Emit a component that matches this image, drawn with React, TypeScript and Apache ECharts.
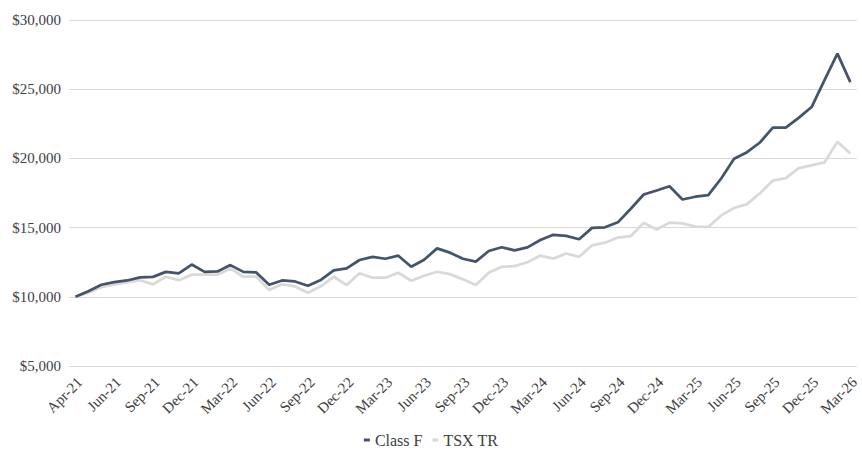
import React, { useEffect, useRef } from "react";
import * as echarts from "echarts";

const categories: string[] = [
  "Apr-21", "Apr-21", "May-21", "Jun-21", "Jul-21", "Aug-21", "Sep-21", "Oct-21", "Nov-21", "Dec-21",
  "Jan-22", "Feb-22", "Mar-22", "Apr-22", "May-22", "Jun-22", "Jul-22", "Aug-22", "Sep-22", "Oct-22",
  "Nov-22", "Dec-22", "Jan-23", "Feb-23", "Mar-23", "Apr-23", "May-23", "Jun-23", "Jul-23", "Aug-23",
  "Sep-23", "Oct-23", "Nov-23", "Dec-23", "Jan-24", "Feb-24", "Mar-24", "Apr-24", "May-24", "Jun-24",
  "Jul-24", "Aug-24", "Sep-24", "Oct-24", "Nov-24", "Dec-24", "Jan-25", "Feb-25", "Mar-25", "Apr-25",
  "May-25", "Jun-25", "Jul-25", "Aug-25", "Sep-25", "Oct-25", "Nov-25", "Dec-25", "Jan-26", "Feb-26",
  "Mar-26",
];

const classF: number[] = [
  10000, 10400, 10870, 11060, 11180, 11400, 11440, 11800, 11700, 12330,
  11800, 11830, 12290, 11800, 11760, 10870, 11180, 11110, 10800, 11220,
  11910, 12060, 12660, 12880, 12750, 12970, 12170, 12680, 13500, 13190,
  12750, 12540, 13310, 13580, 13360, 13570, 14100, 14480, 14400, 14160,
  14980, 15020, 15380, 16360, 17390, 17680, 17990, 17030, 17230, 17340,
  18550, 19970, 20450, 21150, 22220, 22220, 22930, 23710, 25660, 27570,
  25510,
];

const tsxTR: number[] = [
  10000, 10300, 10700, 10900, 11050, 11200, 10900, 11450, 11200, 11600,
  11600, 11600, 12050, 11450, 11450, 10500, 10900, 10750, 10300, 10760,
  11450, 10850, 11700, 11380, 11380, 11740, 11160, 11520, 11810, 11640,
  11260, 10850, 11740, 12170, 12220, 12500, 12980, 12760, 13130, 12890,
  13720, 13910, 14280, 14390, 15340, 14860, 15360, 15300, 15070, 15050,
  15880, 16420, 16700, 17480, 18400, 18570, 19300, 19500, 19710, 21210,
  20360,
];

const yTicks = { min: 5000, max: 30000, interval: 5000 };

const FONT = "Liberation Serif";

function fmtDollar(v: number): string {
  return "$" + String(Math.round(v)).replace(/\B(?=(\d{3})+(?!\d))/g, ",");
}

export default function App() {
  const ref = useRef<HTMLDivElement>(null);
  useEffect(() => {
    if (!ref.current) return;
    const chart = echarts.init(ref.current, null, { renderer: "svg" });
    chart.setOption({
      animation: false,
      backgroundColor: "#ffffff",
      textStyle: { fontFamily: FONT },
      grid: { left: 69, right: 5, top: 20, bottom: 84, containLabel: false },
      legend: {
        data: ["Class F", "TSX TR"],
        top: 427,
        left: "center",
        icon: "rect",
        itemWidth: 6,
        itemHeight: 3,
        itemGap: 10,
        textStyle: { fontFamily: FONT, fontSize: 16, color: "#404040" },
      },
      xAxis: {
        type: "category",
        data: categories,
        boundaryGap: true,
        axisLine: { show: false },
        axisTick: { show: false },
        axisLabel: {
          interval: 2,
          rotate: 45,
          margin: 18,
          padding: [0, -6, 0, 0],
          fontFamily: FONT,
          fontSize: 15,
          color: "#404040",
        },
      },
      yAxis: {
        type: "value",
        min: yTicks.min,
        max: yTicks.max,
        interval: yTicks.interval,
        axisLine: { show: false },
        axisTick: { show: false },
        splitLine: { lineStyle: { color: "#d9d9d9", width: 1 } },
        axisLabel: {
          margin: 8,
          fontFamily: FONT,
          fontSize: 15,
          color: "#404040",
          formatter: (v: number) => fmtDollar(v),
        },
      },
      series: [
        {
          name: "TSX TR",
          type: "line",
          data: tsxTR,
          symbol: "none",
          lineStyle: { color: "#d9d9d9", width: 2.75 },
          itemStyle: { color: "#d9d9d9" },
          z: 2,
        },
        {
          name: "Class F",
          type: "line",
          data: classF,
          symbol: "none",
          lineStyle: { color: "#44546a", width: 2.75 },
          itemStyle: { color: "#44546a" },
          z: 3,
        },
      ],
    });
    return () => chart.dispose();
  }, []);
  return (
    <div
      ref={ref}
      style={{ position: "absolute", left: 0, top: 0, width: 862, height: 450 }}
    />
  );
}
